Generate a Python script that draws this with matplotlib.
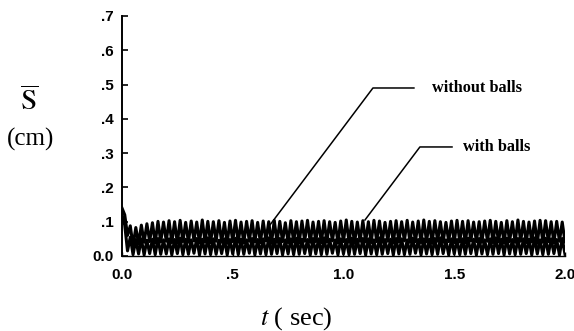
import matplotlib
matplotlib.use('Agg')
import matplotlib.pyplot as plt

plt.rcParams['mathtext.fontset'] = 'stix'

# time samples (sec)
t = [0.0, 0.0125, 0.025, 0.0375, 0.05, 0.0625, 0.075, 0.0875,
     0.1, 0.1125, 0.125, 0.1375, 0.15, 0.1625, 0.175, 0.1875,
     0.2, 0.2125, 0.225, 0.2375, 0.25, 0.2625, 0.275, 0.2875,
     0.3, 0.3125, 0.325, 0.3375, 0.35, 0.3625, 0.375, 0.3875,
     0.4, 0.4125, 0.425, 0.4375, 0.45, 0.4625, 0.475, 0.4875,
     0.5, 0.5125, 0.525, 0.5375, 0.55, 0.5625, 0.575, 0.5875,
     0.6, 0.6125, 0.625, 0.6375, 0.65, 0.6625, 0.675, 0.6875,
     0.7, 0.7125, 0.725, 0.7375, 0.75, 0.7625, 0.775, 0.7875,
     0.8, 0.8125, 0.825, 0.8375, 0.85, 0.8625, 0.875, 0.8875,
     0.9, 0.9125, 0.925, 0.9375, 0.95, 0.9625, 0.975, 0.9875,
     1.0, 1.0125, 1.025, 1.0375, 1.05, 1.0625, 1.075, 1.0875,
     1.1, 1.1125, 1.125, 1.1375, 1.15, 1.1625, 1.175, 1.1875,
     1.2, 1.2125, 1.225, 1.2375, 1.25, 1.2625, 1.275, 1.2875,
     1.3, 1.3125, 1.325, 1.3375, 1.35, 1.3625, 1.375, 1.3875,
     1.4, 1.4125, 1.425, 1.4375, 1.45, 1.4625, 1.475, 1.4875,
     1.5, 1.5125, 1.525, 1.5375, 1.55, 1.5625, 1.575, 1.5875,
     1.6, 1.6125, 1.625, 1.6375, 1.65, 1.6625, 1.675, 1.6875,
     1.7, 1.7125, 1.725, 1.7375, 1.75, 1.7625, 1.775, 1.7875,
     1.8, 1.8125, 1.825, 1.8375, 1.85, 1.8625, 1.875, 1.8875,
     1.9, 1.9125, 1.925, 1.9375, 1.95, 1.9625, 1.975, 1.9875,
     2.0]

# S-bar (cm), without balls
s_without = [0.14, 0.12, 0.06, 0.088, 0.030, 0.083, 0.036, 0.090,
             0.040, 0.094, 0.042, 0.097, 0.038, 0.101, 0.041, 0.099,
             0.043, 0.103, 0.039, 0.100, 0.037, 0.104, 0.042, 0.098,
             0.040, 0.102, 0.044, 0.099, 0.038, 0.105, 0.041, 0.101,
             0.039, 0.100, 0.043, 0.103, 0.040, 0.098, 0.037, 0.102,
             0.042, 0.104, 0.040, 0.099, 0.038, 0.101, 0.043, 0.103,
             0.041, 0.098, 0.039, 0.102, 0.044, 0.100, 0.037, 0.104,
             0.040, 0.101, 0.042, 0.097, 0.039, 0.103, 0.041, 0.100,
             0.038, 0.102, 0.043, 0.104, 0.040, 0.099, 0.042, 0.101,
             0.039, 0.103, 0.041, 0.100, 0.044, 0.098, 0.038, 0.102,
             0.042, 0.105, 0.040, 0.101, 0.037, 0.099, 0.043, 0.103,
             0.041, 0.100, 0.039, 0.104, 0.042, 0.102, 0.040, 0.098,
             0.043, 0.101, 0.038, 0.103, 0.041, 0.100, 0.044, 0.104,
             0.040, 0.099, 0.042, 0.102, 0.039, 0.105, 0.041, 0.101,
             0.037, 0.103, 0.043, 0.100, 0.040, 0.098, 0.042, 0.102,
             0.039, 0.104, 0.041, 0.101, 0.038, 0.103, 0.044, 0.099,
             0.042, 0.100, 0.040, 0.102, 0.043, 0.104, 0.039, 0.101,
             0.041, 0.098, 0.038, 0.103, 0.042, 0.100, 0.040, 0.105,
             0.043, 0.101, 0.039, 0.099, 0.041, 0.102, 0.037, 0.104,
             0.040, 0.103, 0.042, 0.100, 0.038, 0.101, 0.043, 0.099,
             0.041]

# S-bar (cm), with balls
s_with = [0.12, 0.09, 0.015, 0.055, 0.004, 0.048, 0.006, 0.050,
          0.003, 0.046, 0.007, 0.049, 0.004, 0.051, 0.005, 0.047,
          0.006, 0.050, 0.003, 0.048, 0.007, 0.052, 0.004, 0.049,
          0.005, 0.047, 0.008, 0.051, 0.003, 0.049, 0.006, 0.053,
          0.004, 0.050, 0.005, 0.046, 0.007, 0.050, 0.003, 0.048,
          0.006, 0.052, 0.004, 0.049, 0.005, 0.047, 0.008, 0.051,
          0.003, 0.048, 0.006, 0.050, 0.004, 0.053, 0.005, 0.049,
          0.007, 0.051, 0.003, 0.047, 0.006, 0.050, 0.004, 0.052,
          0.005, 0.049, 0.007, 0.048, 0.003, 0.051, 0.006, 0.050,
          0.004, 0.053, 0.005, 0.049, 0.008, 0.047, 0.003, 0.050,
          0.006, 0.048, 0.004, 0.052, 0.005, 0.049, 0.007, 0.051,
          0.003, 0.050, 0.006, 0.047, 0.004, 0.053, 0.005, 0.048,
          0.007, 0.049, 0.003, 0.051, 0.006, 0.050, 0.004, 0.047,
          0.005, 0.052, 0.008, 0.048, 0.003, 0.050, 0.006, 0.049,
          0.004, 0.051, 0.005, 0.053, 0.007, 0.047, 0.003, 0.050,
          0.006, 0.048, 0.004, 0.050, 0.005, 0.052, 0.007, 0.049,
          0.003, 0.051, 0.006, 0.047, 0.004, 0.050, 0.005, 0.053,
          0.007, 0.049, 0.003, 0.052, 0.006, 0.048, 0.004, 0.051,
          0.005, 0.050, 0.007, 0.049, 0.003, 0.053, 0.006, 0.047,
          0.004, 0.052, 0.005, 0.050, 0.007, 0.048, 0.003, 0.051,
          0.005]

xticks = [0.0, 0.5, 1.0, 1.5, 2.0]
xticklabels = ['0.0', '.5', '1.0', '1.5', '2.0']
yticks = [0.0, 0.1, 0.2, 0.3, 0.4, 0.5, 0.6, 0.7]
yticklabels = ['0.0', '.1', '.2', '.3', '.4', '.5', '.6', '.7']

fig = plt.figure(figsize=(5.74, 3.31), dpi=100)
ax = fig.add_axes([0.2125, 0.2266, 0.7718, 0.7251])

ax.plot(t, s_without, color='black', lw=2.2)
ax.plot(t, s_with, color='black', lw=2.2)

ax.set_xlim(0, 2.0)
ax.set_ylim(0, 0.7)
ax.set_xticks(xticks)
ax.set_xticklabels(xticklabels, fontfamily='Liberation Sans', fontweight='bold', fontsize=11)
ax.set_yticks(yticks)
ax.set_yticklabels(yticklabels, fontfamily='Liberation Sans', fontweight='bold', fontsize=11)
ax.tick_params(axis='y', direction='in', length=4, width=1.2, pad=6)
ax.tick_params(axis='x', direction='in', length=3, width=1.0, pad=9)
ax.spines['top'].set_visible(False)
ax.spines['right'].set_visible(False)
ax.spines['left'].set_linewidth(1.4)
ax.spines['bottom'].set_linewidth(1.0)

# leader lines and labels
ax.plot([0.664, 1.133, 1.318], [0.087, 0.490, 0.490], color='black', lw=1.1)
ax.text(1.40, 0.490, 'without balls', fontfamily='Liberation Serif', fontweight='bold',
        fontsize=11.7, va='center', ha='left')
ax.plot([1.097, 1.345, 1.490], [0.105, 0.318, 0.318], color='black', lw=1.1)
ax.text(1.54, 0.318, 'with balls', fontfamily='Liberation Serif', fontweight='bold',
        fontsize=11.7, va='center', ha='left')

fig.text(0.05, 0.692, r'$\overline{\mathrm{S}}$', fontsize=21, ha='center', va='center')
fig.text(0.054, 0.58, '(cm)', fontfamily='Liberation Serif', fontsize=18, ha='center', va='center')
fig.text(0.517, 0.039, r'$t$ ( sec)', fontfamily='Liberation Serif', fontsize=19,
         ha='center', va='center')

plt.savefig('out.png', dpi=100)
plt.close()
